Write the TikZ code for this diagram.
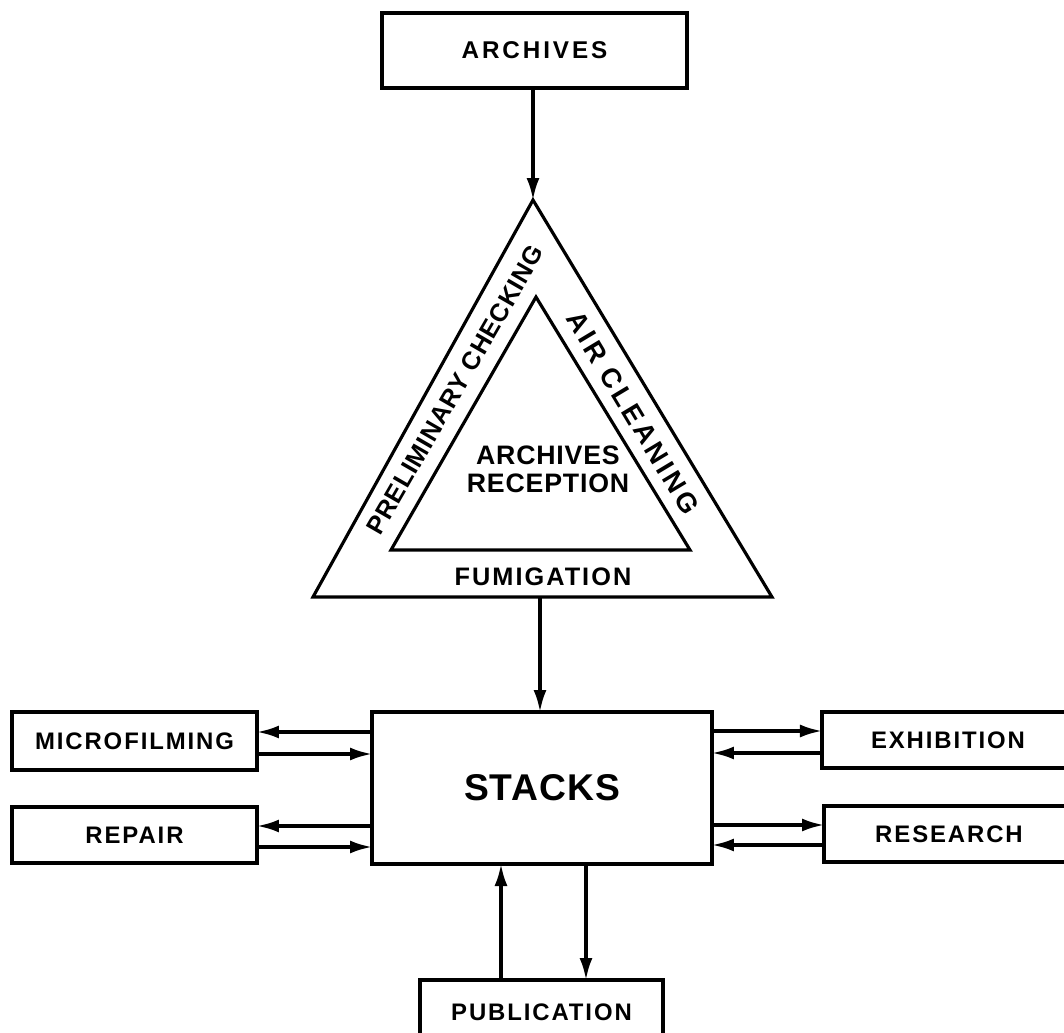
\documentclass[tikz,border=0pt]{standalone}
\usepackage{fontspec}
\usepackage{tikz}
\usetikzlibrary{arrows.meta}
\newfontfamily\chartfont[LetterSpace=8]{Liberation Sans}
\newfontfamily\tightfont[LetterSpace=3]{Liberation Sans}
\newfontfamily\widefont[LetterSpace=12]{Liberation Sans}

\tikzset{
  box/.style={draw, line width=0.9pt, inner sep=0pt, outer sep=0pt,
    font=\chartfont\bfseries\fontsize{6.8}{8}\selectfont},
  lbl/.style={inner sep=0pt, font=\chartfont\bfseries\fontsize{7.2}{8}\selectfont},
  flow/.style={line width=0.9pt, -{Latex[length=2.2mm,width=1.3mm]}},
}

\begin{document}
\begin{tikzpicture}
\clip (0,0) rectangle (10.64,-10.33);
\begin{scope}[every node/.style={box}]
\node[minimum width=3.05cm, minimum height=0.75cm,
  font=\widefont\bfseries\fontsize{6.9}{8}\selectfont] (archives) at (5.345,-0.505) {ARCHIVES};
\node[minimum width=3.40cm, minimum height=1.52cm,
  font=\tightfont\bfseries\fontsize{10.6}{12}\selectfont] (stacks) at (5.42,-7.88) {STACKS};
\node[minimum width=2.45cm, minimum height=0.58cm] (micro) at (1.345,-7.41) {MICROFILMING};
\node[minimum width=2.45cm, minimum height=0.56cm] (repair) at (1.345,-8.35) {REPAIR};
\node[minimum width=2.52cm, minimum height=0.56cm] (exhibit) at (9.48,-7.40) {EXHIBITION};
\node[minimum width=2.50cm, minimum height=0.56cm] (research) at (9.49,-8.34) {RESEARCH};
\node[minimum width=2.43cm, minimum height=0.64cm] (publish) at (5.415,-10.12) {PUBLICATION};
\end{scope}

% reception triangles
\coordinate (outtop) at (5.33,-2.00);
\coordinate (outleft) at (3.13,-5.97);
\coordinate (outright) at (7.72,-5.97);
\coordinate (intop) at (5.36,-2.97);
\coordinate (inleft) at (3.91,-5.50);
\coordinate (inright) at (6.90,-5.50);
\coordinate (fum) at (5.40,-5.97);
\draw [line width=0.9pt] (outtop) -- (outleft) -- (outright) -- cycle;
\draw [line width=0.9pt] (intop) -- (inleft) -- (inright) -- cycle;

\node[lbl, rotate=60, font=\tightfont\bfseries\fontsize{7.2}{8}\selectfont] (checking) at (4.55,-3.90) {PRELIMINARY CHECKING};
\node[lbl, rotate=-59, font=\widefont\bfseries\fontsize{7.8}{8}\selectfont] (cleaning) at (6.33,-4.13) {AIR CLEANING};
\node[lbl, align=center, font=\tightfont\bfseries\fontsize{7.6}{8}\selectfont] (reception) at (5.48,-4.69) {ARCHIVES\\RECEPTION};
\node[lbl] (fumigation) at (5.43,-5.77) {FUMIGATION};

\draw [flow] (archives.south -| outtop) -- (outtop);
\draw [flow] (fum) -- (fum |- stacks.north);

\draw [flow] ([yshift=0.9mm]stacks.west |- micro.east) -- ([yshift=0.9mm]micro.east);
\draw [flow] ([yshift=-1.3mm]micro.east) -- ([yshift=-1.3mm]stacks.west |- micro.east);
\draw [flow] ([yshift=0.9mm]stacks.west |- repair.east) -- ([yshift=0.9mm]repair.east);
\draw [flow] ([yshift=-1.2mm]repair.east) -- ([yshift=-1.2mm]stacks.west |- repair.east);

\draw [flow] ([yshift=0.9mm]stacks.east |- exhibit.west) -- ([yshift=0.9mm]exhibit.west);
\draw [flow] ([yshift=-1.3mm]exhibit.west) -- ([yshift=-1.3mm]stacks.east |- exhibit.west);
\draw [flow] ([yshift=0.9mm]stacks.east |- research.west) -- ([yshift=0.9mm]research.west);
\draw [flow] ([yshift=-1.1mm]research.west) -- ([yshift=-1.1mm]stacks.east |- research.west);

\draw [flow] ([xshift=-4.05mm]publish.north) -- ([xshift=-4.05mm]publish.north |- stacks.south);
\draw [flow] ([xshift=4.45mm]publish.north |- stacks.south) -- ([xshift=4.45mm]publish.north);
\end{tikzpicture}
\end{document}
